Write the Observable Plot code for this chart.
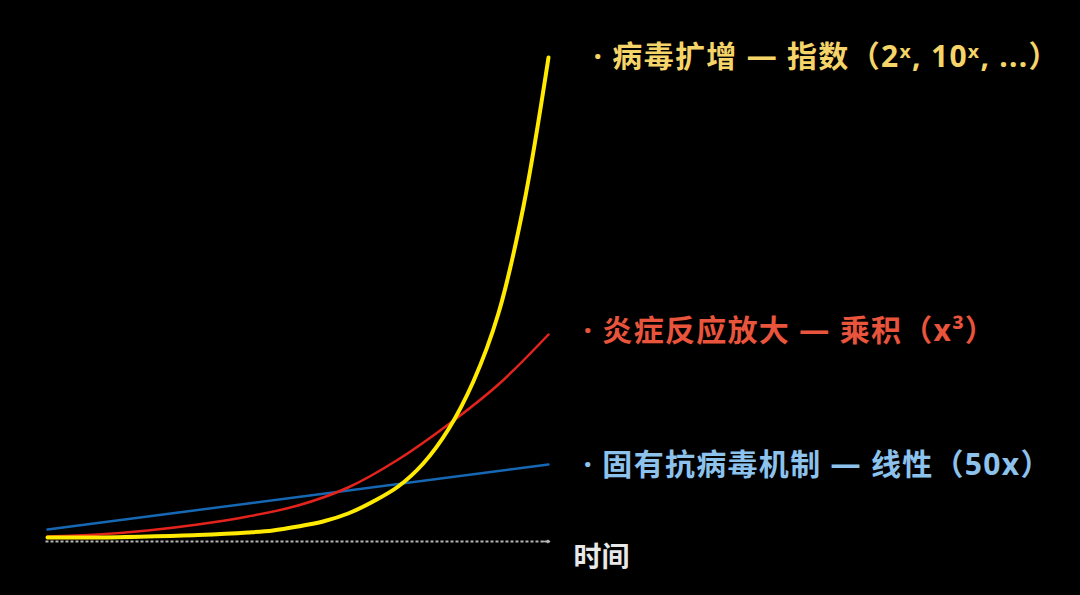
<!DOCTYPE html>
<html>
<head>
<meta charset="utf-8">
<script src="https://cdn.jsdelivr.net/npm/d3@7"></script>
<script src="https://cdn.jsdelivr.net/npm/@observablehq/plot@0.6"></script>
<style>
  html, body { margin: 0; padding: 0; background: #000; }
  #chart svg { display: block; background: #000; }
  #chart svg text.lbl { letter-spacing: 1.3px; }
</style>
</head>
<body>
<div id="chart"></div>
<script>
// Time (arbitrary units) and relative response levels
const yellowT = [0, 1, 2, 3, 4, 4.5, 5, 5.5, 6, 6.5, 7, 7.5, 8, 8.5, 9, 9.5, 10];
const yellowV = [4, 4, 5, 6.5, 9, 11, 15, 20, 28, 40, 55, 78, 112, 160, 228, 335, 484];

const redT = [0, 1, 2, 3, 4, 5, 6, 7, 8, 9, 10];
const redV = [5, 7, 11, 17, 25, 36, 54, 82, 117, 157, 207];

const blueT = [0, 10];
const blueV = [12, 77];

const labels = {
  yellow: "· 病毒扩增 — 指数（2ˣ, 10ˣ, ...）",
  red: "· 炎症反应放大 — 乘积（x³）",
  blue: "· 固有抗病毒机制 — 线性（50x）"
};
const axisLabel = "时间";

const toRows = (ts, vs) => ts.map((t, i) => ({t, v: vs[i]}));
const yellow = toRows(yellowT, yellowV);
const red = toRows(redT, redV);
const blue = toRows(blueT, blueV);
const last = a => [a[a.length - 1]];

const font = "'Noto Sans', 'Noto Sans CJK SC', sans-serif";
const cjk = "'Noto Sans CJK SC', 'Noto Sans', sans-serif";

const chart = Plot.plot({
  width: 1080,
  height: 595,
  marginLeft: 47,
  marginRight: 532,
  marginTop: 57,
  marginBottom: 54,
  x: {domain: [0, 10], axis: null},
  y: {domain: [0, 484], axis: null},
  style: {background: "#000", fontFamily: font},
  marks: [
    // dotted time axis with arrow head
    Plot.link([{x1: -0.04, x2: 10, y: 0}], {x1: "x1", x2: "x2", y1: "y", y2: "y", stroke: "#b4b4b4", strokeWidth: 2, strokeDasharray: "3 2"}),
    Plot.arrow([{x1: 9.9, x2: 10.02, y: 0}], {x1: "x1", x2: "x2", y1: "y", y2: "y", stroke: "#b4b4b4", strokeWidth: 1.6, headLength: 8}),
    Plot.line(blue, {x: "t", y: "v", stroke: "#1668b4", strokeWidth: 2.5}),
    Plot.line(red, {x: "t", y: "v", stroke: "#e3231c", strokeWidth: 2.5, curve: "catmull-rom"}),
    Plot.line(yellow, {x: "t", y: "v", stroke: "#ffea00", strokeWidth: 4, curve: "catmull-rom"}),
    Plot.text(last(yellow), {x: "t", y: "v", text: () => labels.yellow, dx: 45, dy: 0, className: "lbl", textAnchor: "start", fill: "#f5d469", fontSize: 30, fontWeight: "bold", fontFamily: font}),
    Plot.text(last(red), {x: "t", y: "v", text: () => labels.red, dx: 35, dy: -3, className: "lbl", textAnchor: "start", fill: "#e9543c", fontSize: 30, fontWeight: "bold", fontFamily: font}),
    Plot.text(last(blue), {x: "t", y: "v", text: () => labels.blue, dx: 35, dy: 1, className: "lbl", textAnchor: "start", fill: "#8cc2ec", fontSize: 30, fontWeight: "bold", fontFamily: font}),
    Plot.text([{t: 10, v: 0}], {x: "t", y: "v", text: () => axisLabel, dx: 25, dy: 17, textAnchor: "start", fill: "#e8e8e8", fontSize: 28, fontWeight: "bold", fontFamily: cjk})
  ]
});

// apply the label class to the text elements (Plot puts className on the mark group)
chart.querySelectorAll(".lbl text").forEach(t => t.classList.add("lbl"));
document.getElementById("chart").appendChild(chart);
</script>
</body>
</html>
